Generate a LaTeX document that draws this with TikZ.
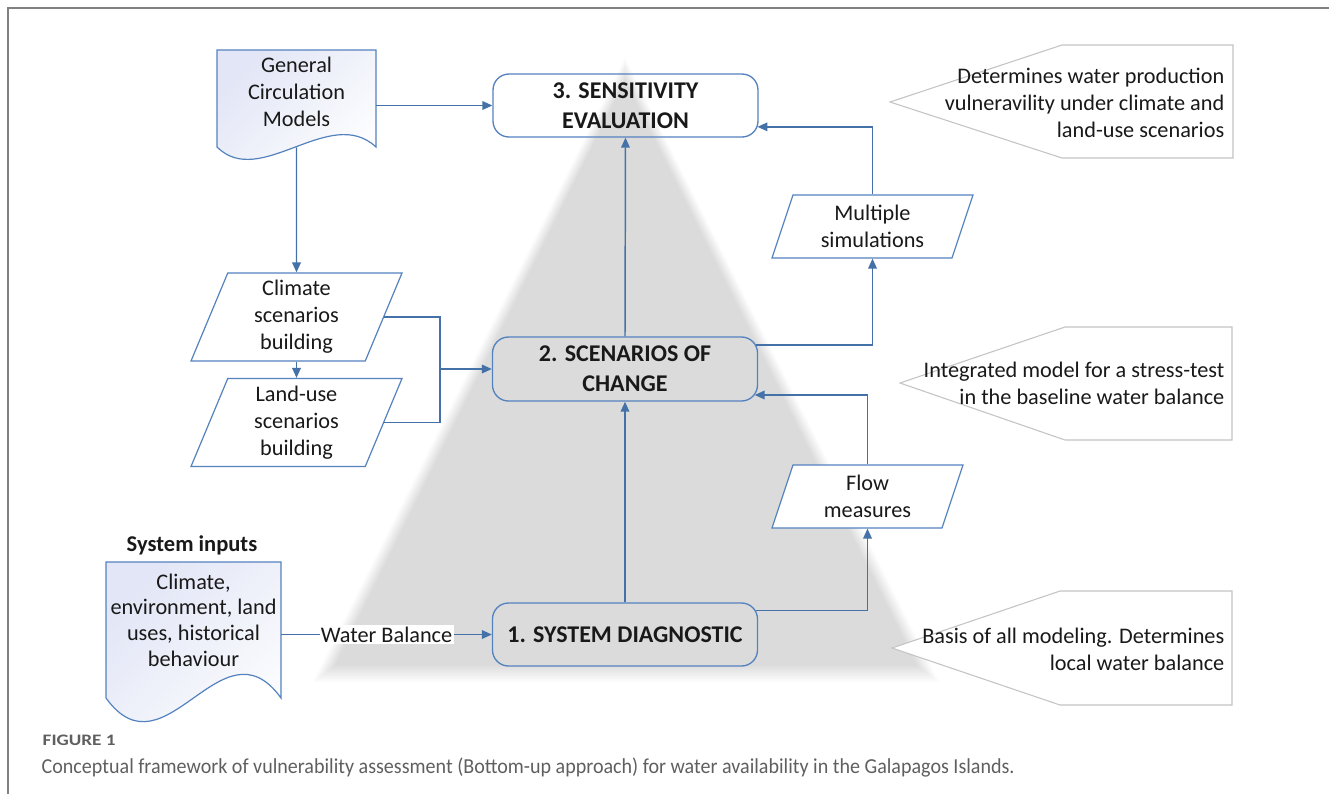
\documentclass[tikz,border=0pt]{standalone}
\usepackage{fontspec}
\setmainfont{Carlito}
\newfontfamily\capfont[FakeStretch=0.94]{Carlito}
\newfontfamily\figfont[FakeStretch=1.2]{Carlito}
\usetikzlibrary{shapes.geometric,arrows.meta,calc}
\definecolor{lineblue}{RGB}{68,114,168}
\definecolor{shapeblue}{RGB}{84,130,190}
\definecolor{docfill}{RGB}{226,230,246}
\definecolor{notegray}{RGB}{196,196,196}
\definecolor{capgray}{RGB}{95,95,95}
\definecolor{framegray}{RGB}{128,128,128}

\tikzset{
  txt/.style={font=\fontsize{16.7}{20.3}\selectfont, text=black!90, align=center},
  terminal/.style={draw=shapeblue, line width=1pt, rounded corners=12pt, minimum width=198.75pt, minimum height=47.25pt, text=black!90, font=\fontsize{18}{22.5}\selectfont\bfseries, align=center},
  io/.style={txt, draw=shapeblue, line width=0.9pt, fill=white, trapezium, trapezium left angle=63.4, trapezium right angle=116.6, trapezium stretches body, inner sep=0pt},
  doc/.style={draw=shapeblue, line width=0.9pt, top color=docfill, bottom color=white, shading angle=45},
  flow/.style={draw=lineblue, line width=1.1pt},
  arr/.style={flow, -{Triangle[length=7.5pt,width=6.5pt]}},
  note/.style={draw=notegray, line width=0.8pt, fill=white},
}

\begin{document}
\begin{tikzpicture}[x=0.75pt,y=0.75pt,yscale=-1,xscale=1]
\useasboundingbox (0,0) rectangle (1329,794);

%Shape: Triangle (soft grey background)
\foreach \k in {0,...,11}
  \fill[black, fill opacity=0.0135] (625,58+2*\k) -- (939-2*\k,682-1.5*\k) -- (313+2*\k,682-1.5*\k) -- cycle;

%Straight Lines: frame
\draw[framegray, line width=1.4pt] (8,794) -- (8,8) -- (1329,8);

%Shape: Document
\draw[doc] (217,50) -- (376,50) -- (376,147) .. controls (330,104) and (260,190) .. (217,147) -- cycle;
% Text Node
\node[txt, minimum width=119.25pt, minimum height=63pt] (gcm) at (296.5,92) {General\\Circulation\\Models};

%Shape: Document
\draw[doc] (106,562) -- (281,562) -- (281,698) .. controls (222,616) and (165,780) .. (106,698) -- cycle;
% Text Node
\node[txt, font=\fontsize{16.7}{19.3}\selectfont, minimum width=131.25pt, minimum height=84.75pt] (inputs) at (193.5,620) {Climate,\\environment, land\\uses, historical\\behaviour};
% Text Node
\node[font=\fontsize{16.9}{19}\selectfont\bfseries, text=black!90] (inptitle) at (192,545) {System inputs};

%Flowchart: Terminal
\node[terminal] (sens) at (625.5,105.5) {3. SENSITIVITY\\EVALUATION};
\node[terminal, minimum height=48pt] (scen) at (625,369) {2. SCENARIOS OF\\CHANGE};
\node[terminal] (diag) at (625,634.5) {1. SYSTEM DIAGNOSTIC};

%Flowchart: Data
\node[io, minimum width=158.25pt, minimum height=66pt] (clim) at (296.5,317) {Climate\\scenarios\\building};
\node[io, minimum width=158.25pt, minimum height=66pt] (land) at (296.5,422.5) {Land-use\\scenarios\\building};
\node[io, minimum width=150.75pt, minimum height=47.25pt, trapezium left angle=63.8, trapezium right angle=116.2] (sims) at (872.5,226.5) {Multiple\\simulations};
\node[io, minimum width=143.25pt, minimum height=47.25pt, trapezium left angle=63.8, trapezium right angle=116.2] (flowm) at (867.5,496.5) {Flow\\measures};

%Straight Lines
\draw[arr] ([yshift=9.75pt]gcm.south) -- (clim.north);
\draw[arr] (gcm.east |- sens.west) -- (sens.west);
\draw[arr] (clim.south) -- (land.north);
\coordinate (join) at (440,369);
\draw[flow] (clim.east) -| (join) |- (land.east);
\draw[arr] (join) -- (scen.west);
\draw[arr] (inputs.east |- diag.west) -- node[txt, fill=white, inner sep=1pt] (wb) {Water Balance} (diag.west);
\draw[arr] (diag.north) -- (scen.south);
\draw[arr] (scen.north) -- (sens.south);
\draw[arr] ([xshift=-1.9pt,yshift=-18pt]diag.east) -| (flowm.south);
\draw[arr] (flowm.north) |- ([xshift=-2.6pt,yshift=19.5pt]scen.east);
\draw[arr] ([xshift=-1.6pt,yshift=-18pt]scen.east) -| (sims.south);
\draw[arr] (sims.north) |- ([xshift=-0.9pt,yshift=16pt]sens.east);

%Shape: Callouts
\draw[note] (890,102) -- (1062,45) -- (1233,45) -- (1233,158) -- (1062,158) -- cycle;
\node[txt, align=right, anchor=east] (note3) at (1229,103) {Determines water production\\vulneravility under climate and\\land-use scenarios};
\draw[note] (900,383) -- (1065,327) -- (1232,327) -- (1232,440) -- (1065,440) -- cycle;
\node[txt, align=right, anchor=east] (note2) at (1229,383.5) {Integrated model for a stress-test\\in the baseline water balance};
\draw[note] (892,648) -- (1060,591) -- (1232,591) -- (1232,705) -- (1060,705) -- cycle;
\node[txt, align=right, anchor=east] (note1) at (1229,649) {Basis of all modeling. Determines\\local water balance};

% Text Node
\node[anchor=west, font=\figfont\fontsize{12}{14}\selectfont\bfseries, text=capgray] (fignum) at (38,740) {FIGURE 1};
\node[anchor=west, font=\capfont\fontsize{16}{18}\selectfont, text=capgray] (caption) at (37,768) {Conceptual framework of vulnerability assessment (Bottom-up approach) for water availability in the Galapagos Islands.};

\end{tikzpicture}
\end{document}
